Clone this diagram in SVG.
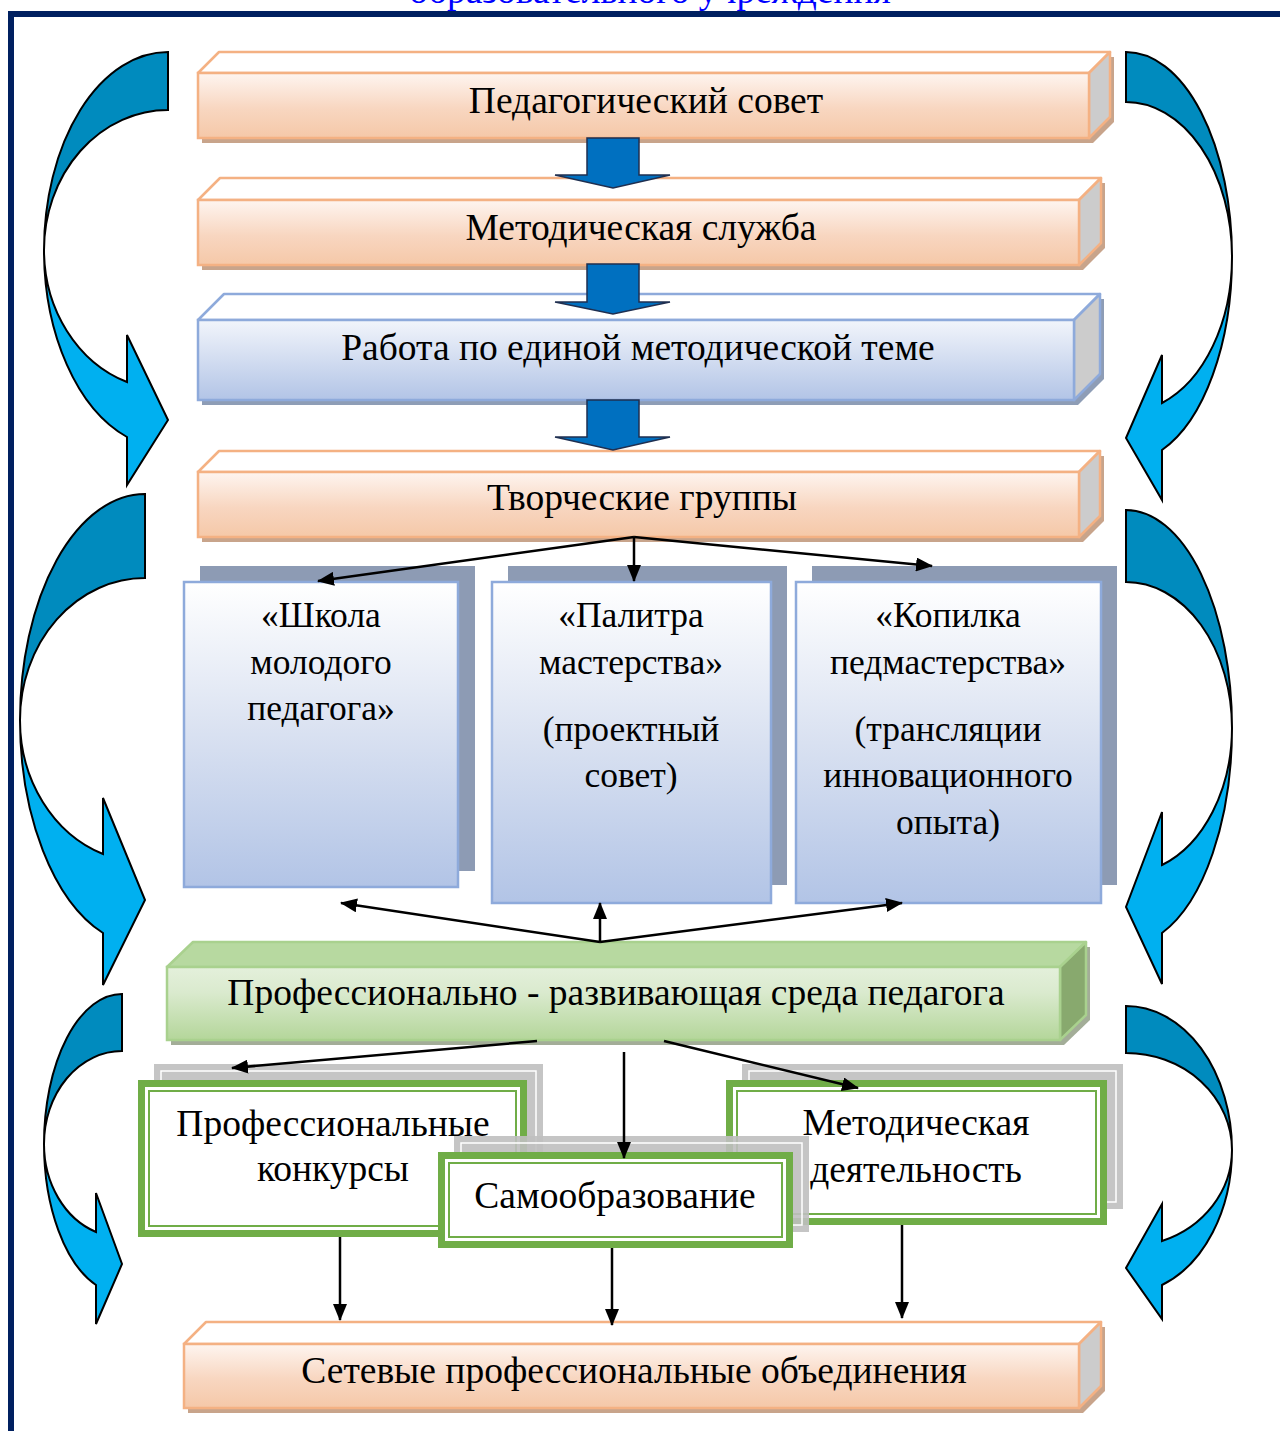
<svg xmlns="http://www.w3.org/2000/svg" width="1280" height="1431" viewBox="0 0 1280 1431">
<defs>
<linearGradient id="gOr" x1="0" y1="0" x2="0" y2="1"><stop offset="0" stop-color="#FEF5F0"/><stop offset="0.55" stop-color="#F8D6C0"/><stop offset="1" stop-color="#F5C8A8"/></linearGradient>
<linearGradient id="gBl" x1="0" y1="0" x2="0" y2="1"><stop offset="0" stop-color="#F2F5FB"/><stop offset="1" stop-color="#B2C4E6"/></linearGradient>
<linearGradient id="gBlT" x1="0" y1="0" x2="0" y2="1"><stop offset="0" stop-color="#FFFFFF"/><stop offset="0.5" stop-color="#D9E1F1"/><stop offset="1" stop-color="#B2C4E6"/></linearGradient>
<linearGradient id="gGr" x1="0" y1="0" x2="0" y2="1"><stop offset="0" stop-color="#E4F0DB"/><stop offset="0.35" stop-color="#DAEACE"/><stop offset="1" stop-color="#B4D69A"/></linearGradient>
<marker id="ah" markerUnits="userSpaceOnUse" markerWidth="18" markerHeight="14" refX="16" refY="7" orient="auto"><path d="M0,0 L17,7 L0,14 Z" fill="#000"/></marker>
<style>
.t{font-family:"Liberation Serif","Times New Roman",serif;font-size:37.5px;fill:#000;text-anchor:middle}
.tm{font-family:"Liberation Serif","Times New Roman",serif;font-size:35.5px;fill:#000;text-anchor:middle}
.oFr{fill:url(#gOr);stroke:#F4B183;stroke-width:2.5}
.oTop{fill:#FFFFFF;stroke:#F4B183;stroke-width:2.5;stroke-linejoin:round}
.oSide{fill:#CCCCCC;stroke:#F4B183;stroke-width:2.5;stroke-linejoin:round}
.oSh{fill:#C8A48B}
.bFr{fill:url(#gBl);stroke:#8EAADB;stroke-width:2.5}
.bTop{fill:#FFFFFF;stroke:#8EAADB;stroke-width:2.5;stroke-linejoin:round}
.bSide{fill:#CCCCCC;stroke:#8EAADB;stroke-width:2.5;stroke-linejoin:round}
.bSh{fill:#8E9DB6}
.gFr{fill:url(#gGr);stroke:#A9D18E;stroke-width:2.5}
.gTop{fill:#B7D9A0;stroke:#A9D18E;stroke-width:2.5;stroke-linejoin:round}
.gSide{fill:#88A96E;stroke:#A9D18E;stroke-width:2.5;stroke-linejoin:round}
.gSh{fill:#A3AD98}
.panel{fill:url(#gBlT);stroke:#8EAADB;stroke-width:2.5}
.panelSh{fill:#8D9BB4}
.dk{fill:#008BBE;stroke:#000;stroke-width:2;stroke-linejoin:miter}
.br{fill:#00B0F0;stroke:#000;stroke-width:2;stroke-linejoin:miter}
.blk{fill:#0070C0;stroke:#1F2F50;stroke-width:1.5}
.fOut{fill:#FFFFFF;stroke:#70AD47;stroke-width:7}
.fIn{fill:none;stroke:#70AD47;stroke-width:2}
.sh{fill:#BFBFBF;opacity:0.9}
.shIn{fill:none;stroke:#FFFFFF;stroke-width:1.5}
.con{stroke:#000;stroke-width:2.5;fill:none;marker-end:url(#ah)}
</style>
</defs>
<rect x="0" y="0" width="1280" height="1431" fill="#FFFFFF"/>
<text class="t" x="650" y="3" style="fill:#0000FF">образовательного учреждения</text>
<g id="frame" fill="#002060">
<rect x="8" y="11" width="1272" height="6"/>
<rect x="8" y="11" width="6" height="1420"/>
</g>

<g id="curved-arrows">
<path class="dk" d="M168,52 A124,198 0 0 0 44,250 A124,140 0 0 1 168,110 Z"/>
<path class="br" d="M44,250 A124,198 0 0 0 127,437 L127,485 L168,420 L127,335 L127,382 A124,140 0 0 1 44,250 Z"/>
<path class="dk" d="M145,494 A125,226 0 0 0 20,720 A125,142 0 0 1 145,578 Z"/>
<path class="br" d="M20,720 A125,226 0 0 0 103,933 L103,985 L145,900 L103,798 L103,854 A125,142 0 0 1 20,720 Z"/>
<path class="dk" d="M122,994 A78,150 0 0 0 44,1144 A78,93 0 0 1 122,1051 Z"/>
<path class="br" d="M44,1144 A78,150 0 0 0 96,1285 L96,1324 L122,1264 L96,1193 L96,1232 A78,93 0 0 1 44,1144 Z"/>
<path class="dk" d="M1126,52 A106,205 0 0 1 1232,257 A106,155 0 0 0 1126,102 Z"/>
<path class="br" d="M1232,257 A106,205 0 0 1 1162,450 L1162,500 L1126,438 L1162,355 L1162,403 A106,155 0 0 0 1232,257 Z"/>
<path class="dk" d="M1126,510 A106,218 0 0 1 1232,728 A106,146 0 0 0 1126,582 Z"/>
<path class="br" d="M1232,728 A106,218 0 0 1 1162,933 L1162,984 L1126,907 L1162,812 L1162,865 A106,146 0 0 0 1232,728 Z"/>
<path class="dk" d="M1126,1006 A106,144 0 0 1 1232,1150 A106,97 0 0 0 1126,1053 Z"/>
<path class="br" d="M1232,1150 A106,144 0 0 1 1162,1285 L1162,1319 L1126,1268 L1162,1204 L1162,1241 A106,97 0 0 0 1232,1150 Z"/>
</g>

<g id="ped-sovet">
<polygon class="oSh" points="202,78 223,57 1114,57 1114,122 1093,143 202,143"/>
<polygon class="oTop" points="198,73 219,52 1110,52 1089,73"/>
<polygon class="oSide" points="1089,73 1110,52 1110,117 1089,138"/>
<rect class="oFr" x="198" y="73" width="891" height="65"/>
<text class="t" x="646" y="113">Педагогический совет</text>
</g>

<g id="metod-sluzhba">
<polygon class="oSh" points="202,205 224,183 1105,183 1105,248 1083,270 202,270"/>
<polygon class="oTop" points="198,200 220,178 1101,178 1079,200"/>
<polygon class="oSide" points="1079,200 1101,178 1101,243 1079,265"/>
<rect class="oFr" x="198" y="200" width="881" height="65"/>
<text class="t" x="641" y="240">Методическая служба</text>
</g>

<g id="edinaya-tema">
<polygon class="bSh" points="202,325 228,299 1104,299 1104,379 1078,405 202,405"/>
<polygon class="bTop" points="198,320 224,294 1100,294 1074,320"/>
<polygon class="bSide" points="1074,320 1100,294 1100,374 1074,400"/>
<rect class="bFr" x="198" y="320" width="876" height="80"/>
<text class="t" x="638" y="360">Работа по единой методической теме</text>
</g>

<g id="tvorcheskie-gruppy">
<polygon class="oSh" points="202,477 223,456 1104,456 1104,521 1083,542 202,542"/>
<polygon class="oTop" points="198,472 219,451 1100,451 1079,472"/>
<polygon class="oSide" points="1079,472 1100,451 1100,516 1079,537"/>
<rect class="oFr" x="198" y="472" width="881" height="65"/>
<text class="t" x="642" y="510">Творческие группы</text>
</g>

<g id="block-arrows">
<path class="blk" d="M587,138 L639,138 L639,175 L670,175 L613,188 L555,175 L587,175 Z"/>
<path class="blk" d="M587,264 L639,264 L639,302 L670,302 L613,314 L555,302 L587,302 Z"/>
<path class="blk" d="M587,400 L639,400 L639,437 L670,437 L613,450 L555,437 L587,437 Z"/>
</g>

<g id="shkola">
<rect class="panelSh" x="200" y="566" width="275" height="305"/>
<rect class="panel" x="184" y="582" width="274" height="305"/>
<text class="tm" x="321" y="627">«Школа</text>
<text class="tm" x="321" y="674">молодого</text>
<text class="tm" x="321" y="720">педагога»</text>
</g>

<g id="palitra">
<rect class="panelSh" x="508" y="566" width="279" height="319"/>
<rect class="panel" x="492" y="582" width="279" height="321"/>
<text class="tm" x="631" y="627">«Палитра</text>
<text class="tm" x="631" y="674">мастерства»</text>
<text class="tm" x="631" y="741">(проектный</text>
<text class="tm" x="631" y="787">совет)</text>
</g>

<g id="kopilka">
<rect class="panelSh" x="812" y="566" width="305" height="319"/>
<rect class="panel" x="796" y="582" width="305" height="321"/>
<text class="tm" x="948" y="627">«Копилка</text>
<text class="tm" x="948" y="674">педмастерства»</text>
<text class="tm" x="948" y="741">(трансляции</text>
<text class="tm" x="948" y="787">инновационного</text>
<text class="tm" x="948" y="834">опыта)</text>
</g>

<g id="prof-sreda">
<polygon class="gSh" points="171,972 197,947 1090,947 1090,1020 1064,1045 171,1045"/>
<polygon class="gTop" points="167,967 193,942 1086,942 1060,967"/>
<polygon class="gSide" points="1060,967 1086,942 1086,1015 1060,1040"/>
<rect class="gFr" x="167" y="967" width="893" height="73"/>
<text class="t" x="616" y="1005">Профессионально - развивающая среда педагога</text>
</g>

<g id="konkursy">
<rect class="sh" x="154" y="1064" width="389" height="157"/>
<rect class="shIn" x="161" y="1071" width="375" height="143"/>
<rect class="fOut" x="141.5" y="1083.5" width="382" height="150"/>
<rect class="fIn" x="149" y="1091" width="367" height="135"/>
<text class="t" x="333" y="1136">Профессиональные</text>
<text class="t" x="333" y="1181">конкурсы</text>
</g>

<g id="metod-deyatelnost">
<rect class="sh" x="742" y="1064" width="381" height="145"/>
<rect class="shIn" x="749" y="1071" width="367" height="131"/>
<rect class="fOut" x="729.5" y="1083.5" width="374" height="138"/>
<rect class="fIn" x="737" y="1091" width="359" height="123"/>
<text class="t" x="916" y="1135">Методическая</text>
<text class="t" x="916" y="1182">деятельность</text>
</g>

<g id="samoobrazovanie">
<rect class="sh" x="454" y="1136" width="355" height="96"/>
<rect class="shIn" x="461" y="1143" width="341" height="82"/>
<rect class="fOut" x="441.5" y="1155.5" width="348" height="89"/>
<rect class="fIn" x="449" y="1163" width="333" height="74"/>
<text class="t" x="615" y="1208">Самообразование</text>
</g>

<g id="setevye">
<polygon class="oSh" points="188,1349 210,1327 1105,1327 1105,1391 1083,1413 188,1413"/>
<polygon class="oTop" points="184,1344 206,1322 1101,1322 1079,1344"/>
<polygon class="oSide" points="1079,1344 1101,1322 1101,1386 1079,1408"/>
<rect class="oFr" x="184" y="1344" width="895" height="64"/>
<text class="t" x="634" y="1383">Сетевые профессиональные объединения</text>
</g>

<g id="connectors">
<line class="con" x1="634" y1="537" x2="318" y2="581"/>
<line class="con" x1="634" y1="537" x2="634" y2="581"/>
<line class="con" x1="634" y1="537" x2="932" y2="566"/>
<line class="con" x1="600" y1="942" x2="341" y2="903"/>
<line class="con" x1="600" y1="942" x2="600" y2="903"/>
<line class="con" x1="600" y1="942" x2="902" y2="903"/>
<line class="con" x1="537" y1="1041" x2="232" y2="1068"/>
<line class="con" x1="624" y1="1052" x2="624" y2="1158"/>
<line class="con" x1="664" y1="1041" x2="858" y2="1088"/>
<line class="con" x1="340" y1="1237" x2="340" y2="1320"/>
<line class="con" x1="612" y1="1248" x2="612" y2="1325"/>
<line class="con" x1="902" y1="1225" x2="902" y2="1318"/>
</g>
</svg>
